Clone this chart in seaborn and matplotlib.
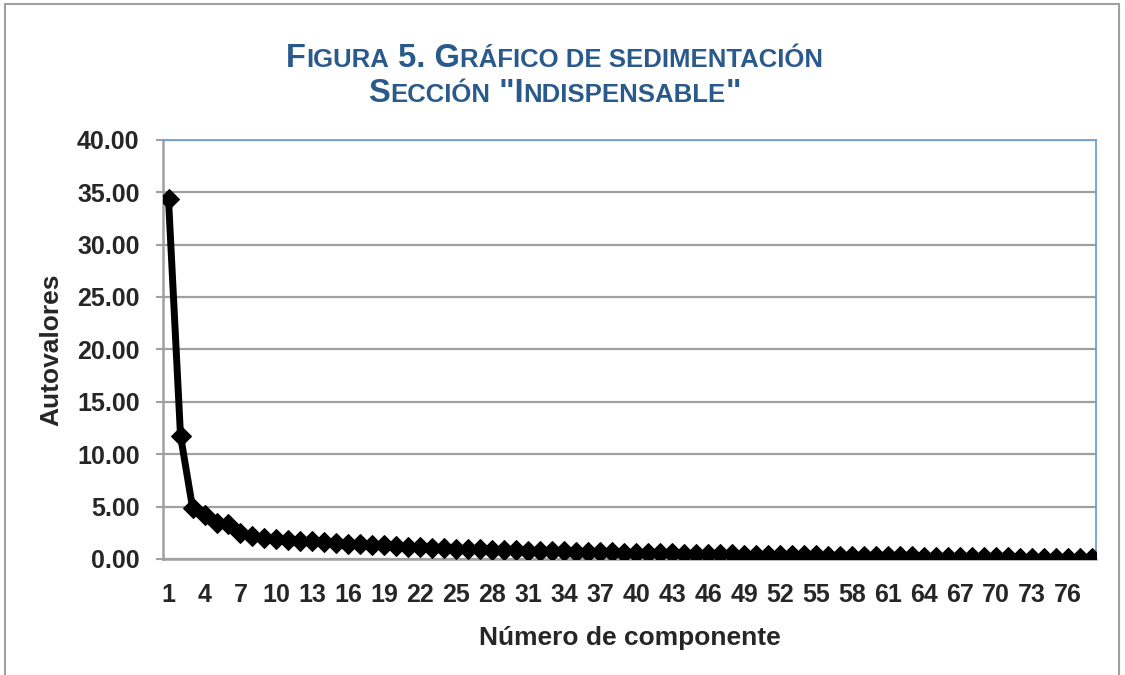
import matplotlib
matplotlib.use("Agg")
import seaborn as sns
import pandas as pd
from matplotlib import pyplot as plt
from matplotlib.offsetbox import TextArea, HPacker, VPacker, AnnotationBbox
from matplotlib.patches import Rectangle

# eigenvalues (components 1..78)
autovalores = [34.30, 11.75, 4.90, 4.20, 3.40, 3.30, 2.45, 2.15, 1.98, 1.90,
               1.82, 1.75, 1.68, 1.60, 1.52, 1.46, 1.40, 1.34, 1.28, 1.22,
               1.17, 1.12, 1.07, 1.03, 0.99, 0.95, 0.91, 0.88, 0.85, 0.82,
               0.79, 0.76, 0.73, 0.71, 0.68, 0.66, 0.64, 0.62, 0.60, 0.58,
               0.56, 0.54, 0.52, 0.50, 0.48, 0.46, 0.45, 0.43, 0.41, 0.40,
               0.38, 0.37, 0.35, 0.34, 0.33, 0.31, 0.30, 0.29, 0.27, 0.26,
               0.25, 0.24, 0.23, 0.22, 0.21, 0.20, 0.18, 0.17, 0.16, 0.15,
               0.14, 0.13, 0.12, 0.11, 0.10, 0.09, 0.07, 0.06]
componentes = list(range(1, len(autovalores) + 1))
xtick_labels = list(range(1, 77, 3))
ytick_values = [0, 5, 10, 15, 20, 25, 30, 35, 40]

COL_X = "Número de componente"
COL_Y = "Autovalores"
df = pd.DataFrame({COL_X: componentes, COL_Y: autovalores})

sns.set_style("white")
plt.rcParams['font.family'] = ['Liberation Sans', 'DejaVu Sans']

fig = plt.figure(figsize=(11.25, 6.75), dpi=100)
ax = fig.add_axes([0.145, 0.172, 0.829, 0.621])

sns.lineplot(x=COL_X, y=COL_Y, data=df, ax=ax, color='black', linewidth=5,
             marker='D', markersize=10, markeredgecolor='black', zorder=3)

ax.set_xlim(0.55, 78.3)
ax.set_ylim(0, 40)
ax.set_xticks(xtick_labels)
ax.set_xticklabels([str(v) for v in xtick_labels], fontsize=18, fontweight='bold')
ax.set_yticks(ytick_values)
ax.set_yticklabels([f"{v:.2f}" for v in ytick_values], fontsize=18, fontweight='bold')
ax.tick_params(axis='x', length=0, pad=17)
ax.tick_params(axis='y', length=5, width=1.5, color='#a0a0a0', direction='out', left=True, pad=12)
ax.yaxis.grid(True, color='#a0a0a0', linewidth=1.6)
ax.set_axisbelow(True)

ax.set_xlabel(COL_X, fontsize=19, fontweight='bold', labelpad=14)
ax.set_ylabel(COL_Y, fontsize=19, fontweight='bold', labelpad=10)

for side in ['left', 'bottom']:
    ax.spines[side].set_color('#a0a0a0')
    ax.spines[side].set_linewidth(1.8)
for side in ['top', 'right']:
    ax.spines[side].set_color('#6f9fd4')
    ax.spines[side].set_linewidth(1.3)

# small-caps style title
title_color = '#2a5a8b'
big = dict(fontsize=23.5, fontweight='bold', color=title_color)
small = dict(fontsize=18.5, fontweight='bold', color=title_color)

def line(parts):
    return HPacker(children=[TextArea(t, textprops=p) for t, p in parts],
                   align='baseline', pad=0, sep=0)

line1 = line([("F", big), ("IGURA", small), (" 5. G", big),
              ("RÁFICO DE SEDIMENTACIÓN", small)])
line2 = line([("S", big), ("ECCIÓN", small), (" \"I", big),
              ("NDISPENSABLE", small), ("\"", big)])
title = VPacker(children=[line1, line2], align='center', pad=0, sep=3)
ab = AnnotationBbox(title, (0.493, 0.888), xycoords='figure fraction',
                    frameon=False, box_alignment=(0.5, 0.5))
fig.add_artist(ab)

# outer chart border
fig.add_artist(Rectangle((0.004, -0.01), 0.991, 1.004, transform=fig.transFigure,
                         fill=False, edgecolor='#a0a0a0', linewidth=1.5))

plt.savefig('out.png', dpi=100)
